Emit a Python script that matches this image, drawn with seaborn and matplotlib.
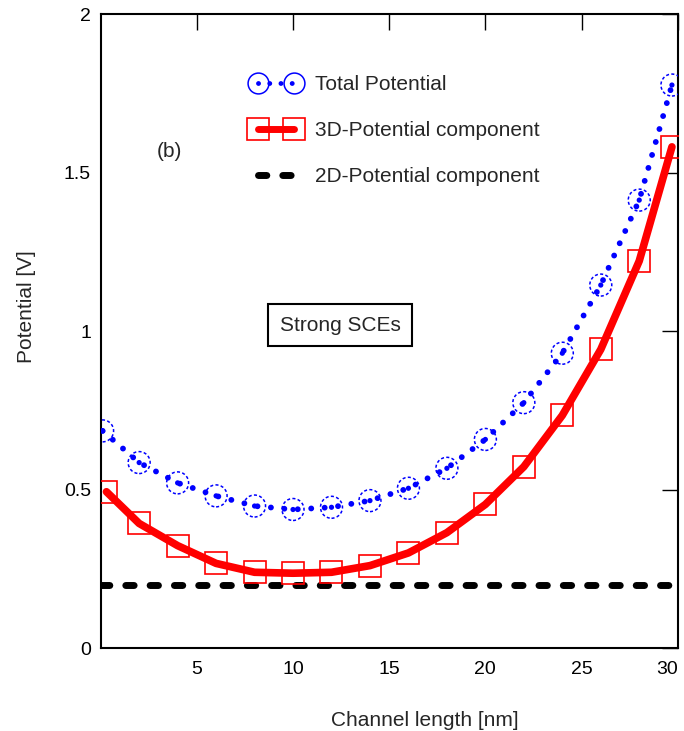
import pandas as pd
import matplotlib
matplotlib.use('Agg')
import matplotlib.pyplot as plt
import seaborn as sns
from matplotlib.lines import Line2D
from matplotlib.legend_handler import HandlerTuple

# data
channel_total = [0.1, 2, 4, 6, 8, 10, 12, 14, 16, 18, 20, 22, 24, 26, 28, 29.7]
total_potential = [0.685, 0.585, 0.521, 0.480, 0.448, 0.437, 0.444, 0.465,
                   0.504, 0.567, 0.658, 0.774, 0.930, 1.145, 1.413, 1.776]
channel_3d = [0.3, 2, 4, 6, 8, 10, 12, 14, 16, 18, 20, 22, 24, 26, 28, 29.7]
potential_3d = [0.493, 0.393, 0.323, 0.267, 0.239, 0.236, 0.239, 0.260,
                0.300, 0.364, 0.453, 0.572, 0.734, 0.942, 1.221, 1.581]
channel_2d = [0, 30]
potential_2d = [0.2, 0.2]
x_ticks = [5, 10, 15, 20, 25, 30]
y_ticks = [0, 0.5, 1, 1.5, 2]
y_ticklabels = ['0', '0.5', '1', '1.5', '2']

df_total = pd.DataFrame({'x': channel_total, 'y': total_potential})
df_3d = pd.DataFrame({'x': channel_3d, 'y': potential_3d})
df_2d = pd.DataFrame({'x': channel_2d, 'y': potential_2d})

sns.set_style('white')
plt.rcParams['font.family'] = ['Liberation Sans', 'DejaVu Sans']

fig = plt.figure(figsize=(6.84, 7.31), dpi=100)
ax = fig.add_axes([0.1472, 0.1135, 0.8436, 0.8673])

dotted = (0, (0.01, 2.3))

# 2D component (dashed black)
sns.lineplot(data=df_2d, x='x', y='y', ax=ax, color='black', lw=5,
             linestyle=(0, (1.2, 2.3)), dash_capstyle='round', zorder=2)

# 3D component (thick red with squares)
sns.lineplot(data=df_3d, x='x', y='y', ax=ax, color='red', lw=5.5,
             marker='s', markersize=16, markerfacecolor='none',
             markeredgecolor='red', markeredgewidth=1.2, zorder=3)

# total potential (blue dotted with dashed circles)
sns.lineplot(data=df_total, x='x', y='y', ax=ax, color='blue', lw=4.2,
             linestyle=dotted, dash_capstyle='round', zorder=3)
sns.scatterplot(data=df_total, x='x', y='y', ax=ax, s=250, marker='o',
                facecolors='none', edgecolors='blue', linewidths=1.1,
                linestyle=(0, (2, 1.5)), zorder=4)
sns.scatterplot(data=df_total, x='x', y='y', ax=ax, s=14, marker='o',
                color='blue', edgecolor='none', zorder=4)

ax.set_xlim(0, 30)
ax.set_ylim(0, 2)
ax.set_xticks(x_ticks)
ax.set_yticks(y_ticks)
ax.set_yticklabels(y_ticklabels)
ax.tick_params(direction='in', length=11.5, width=1, top=True, right=True,
               labelsize=14, colors='black')
ax.tick_params(axis='x', pad=9)
ax.tick_params(axis='y', pad=7)
ax.get_xticklabels()[-1].set_horizontalalignment('right')
for s in ax.spines.values():
    s.set_linewidth(1.5)
    s.set_color('black')

ax.set_xlabel('Channel length [nm]', fontsize=15)
ax.set_ylabel('Potential [V]', fontsize=15)
ax.xaxis.set_label_coords(0.561, -0.1)
ax.yaxis.set_label_coords(-0.112, 0.538)

ax.text(3.6, 1.565, '(b)', fontsize=15, ha='center', va='center')
ax.text(12.44, 1.019, 'Strong SCEs', fontsize=15, ha='center', va='center',
        bbox=dict(boxstyle='square,pad=0.55', fc='white', ec='black', lw=1.5))

h_total = (Line2D([], [], color='blue', lw=3.5, linestyle=dotted, dash_capstyle='round',
                  marker='o', markersize=15, markerfacecolor='none',
                  markeredgecolor='blue', markeredgewidth=1.1),)
h_3d = Line2D([], [], color='red', lw=5, marker='s', markersize=16,
              markerfacecolor='none', markeredgecolor='red', markeredgewidth=1.2)
h_2d = Line2D([], [], color='black', lw=5, linestyle=(0, (1.2, 2.3)),
              dash_capstyle='round')
ax.legend([h_total, h_3d, h_2d],
          ['Total Potential', '3D-Potential component', '2D-Potential component'],
          handler_map={tuple: HandlerTuple(ndivide=1)},
          loc='upper left', bbox_to_anchor=(0.243, 0.9195), frameon=False,
          borderpad=0, numpoints=2, handlelength=2.35, handletextpad=0.72,
          labelspacing=1.29, fontsize=15)

fig.savefig('out.png', dpi=100)
